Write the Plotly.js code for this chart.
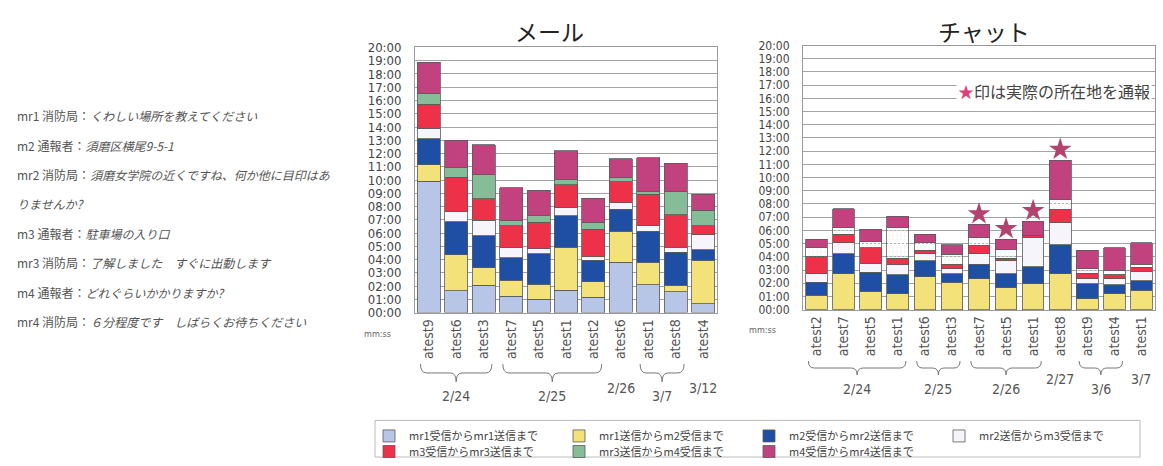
<!DOCTYPE html>
<html>
<head>
<meta charset="utf-8">
<script src="https://cdn.plot.ly/plotly-3.0.1.min.js"></script>
<style>
  html, body { margin: 0; padding: 0; background: #fff; }
  #chart { width: 1163px; height: 466px; }
</style>
</head>
<body>
<div id="chart"></div>
<script>
// ---- data -------------------------------------------------------------
// Segment names (stage of each exchange) and their fill colours
const seriesNames = [
  'mr1受信からmr1送信まで',
  'mr1送信からm2受信まで',
  'm2受信からmr2送信まで',
  'mr2送信からm3受信まで',
  'm3受信からmr3送信まで',
  'mr3送信からm4受信まで',
  'm4受信からmr4送信まで'
];
const seriesColors = ['#b7c6e6', '#f3e17a', '#1e4fa4', '#f5f5fb', '#ec3149', '#86bd99', '#c2417f'];

// Y-axis tick labels (mm:ss)
const yTickLabels = [
  '00:00', '01:00', '02:00', '03:00', '04:00', '05:00', '06:00', '07:00', '08:00', '09:00', '10:00',
  '11:00', '12:00', '13:00', '14:00', '15:00', '16:00', '17:00', '18:00', '19:00', '20:00'
];

// メール: subjects, session dates, durations (minutes) per stage
const mailLabels = ['atest9', 'atest6', 'atest3', 'atest7', 'atest5', 'atest1', 'atest2', 'atest6', 'atest1', 'atest8', 'atest4'];
const mailDates  = ['2/24', '2/24', '2/24', '2/25', '2/25', '2/25', '2/25', '2/26', '3/7', '3/7', '3/12'];
const mailS1 = [9.90, 1.64, 2.07, 1.25, 1.00, 1.69, 1.15, 3.81, 2.12, 1.57, 0.65];
const mailS2 = [1.25, 2.74, 1.32, 1.19, 1.14, 3.24, 1.17, 2.32, 1.69, 0.50, 3.29];
const mailS3 = [1.95, 2.49, 2.41, 1.69, 2.29, 2.37, 1.62, 1.67, 2.32, 2.49, 0.79];
const mailS4 = [0.80, 0.73, 1.17, 0.75, 0.37, 0.62, 0.29, 0.50, 0.42, 0.37, 1.15];
const mailS5 = [1.80, 2.60, 1.63, 1.67, 2.00, 1.74, 2.07, 1.56, 2.37, 2.44, 0.67];
const mailS6 = [0.80, 0.76, 1.80, 0.37, 0.50, 0.38, 0.50, 0.30, 0.25, 1.80, 1.17];
const mailS7 = [2.40, 2.04, 2.25, 2.49, 1.94, 2.16, 1.82, 1.44, 2.53, 2.09, 1.20];

// チャット: subjects, session dates, durations (minutes) per stage
const chatLabels = ['atest2', 'atest7', 'atest5', 'atest1', 'atest6', 'atest3', 'atest7', 'atest5', 'atest1', 'atest8', 'atest9', 'atest4', 'atest1'];
const chatDates  = ['2/24', '2/24', '2/24', '2/24', '2/25', '2/25', '2/26', '2/26', '2/26', '2/27', '3/6', '3/6', '3/7'];
const chatS1 = [0, 0, 0, 0, 0, 0, 0, 0, 0, 0, 0, 0, 0];
const chatS2 = [1.08, 2.70, 1.40, 1.20, 2.50, 2.08, 2.33, 1.65, 1.95, 2.70, 0.83, 1.20, 1.45];
const chatS3 = [1.00, 1.55, 1.43, 1.45, 1.20, 0.62, 1.12, 1.05, 1.30, 2.20, 1.12, 0.70, 0.75];
const chatS4 = [0.62, 0.83, 0.67, 0.75, 0.55, 0.38, 0.80, 1.00, 2.25, 1.68, 0.38, 0.43, 0.70];
const chatS5 = [1.30, 0.62, 1.20, 0.50, 0.25, 0.37, 0.58, 0.20, 0.08, 1.00, 0.42, 0.32, 0.30];
const chatS6 = [0.70, 0.50, 0.43, 2.35, 0.58, 0.75, 0.62, 0.68, 0.07, 0.75, 0.33, 0.30, 0.25];
const chatS7 = [0.63, 1.45, 0.95, 0.83, 0.62, 0.70, 1.00, 0.75, 1.05, 3.00, 1.42, 1.75, 1.63];
// sessions in which the caller reported the actual location (★)
const chatReported = [false, false, false, false, false, false, true, true, true, true, false, false, false];

// Dialogue shown on the left
const dialogueLines = [
  'mr1 消防局：<i>くわしい場所を教えてください</i>',
  'm2 通報者：<i>須磨区横尾9-5-1</i>',
  'mr2 消防局：<i>須磨女学院の近くですね、何か他に目印はあ</i>',
  '<i>りませんか?</i>',
  'm3 通報者：<i>駐車場の入り口</i>',
  'mr3 消防局：<i>了解しました　すぐに出動します</i>',
  'm4 通報者：<i>どれぐらいかかりますか?</i>',
  'mr4 消防局：<i>６分程度です　しばらくお待ちください</i>'
];
const noteText = '印は実際の所在地を通報';

// ---- layout helpers -----------------------------------------------------
const W = 1163, H = 466;
const px = v => v / W;          // pixel column -> paper x
const py = v => 1 - v / H;      // pixel row -> paper y
const JP = '"Noto Sans CJK JP", "Noto Sans", sans-serif';
const NUM = '"Liberation Sans Narrow", "DejaVu Sans Condensed", "Liberation Sans", sans-serif';

const mailSeries = [mailS1, mailS2, mailS3, mailS4, mailS5, mailS6, mailS7];
const chatSeries = [chatS1, chatS2, chatS3, chatS4, chatS5, chatS6, chatS7];

const traces = [];
mailSeries.forEach((vals, k) => {
  traces.push({
    type: 'bar', name: seriesNames[k], x: vals.map((_, i) => i), y: vals,
    xaxis: 'x', yaxis: 'y', width: 0.84,
    marker: { color: seriesColors[k], line: { color: '#5a5a5a', width: 0.8 } },
    legendgroup: 'g' + k, legend: k < 4 ? 'legend' : 'legend2', showlegend: true,
    hoverinfo: 'skip'
  });
});
chatSeries.forEach((vals, k) => {
  const marker = { color: seriesColors[k], line: { color: '#5a5a5a', width: 0.8 } };
  if (k === 5) marker.pattern = { shape: '.', fgcolor: '#f2f7f2', size: 4, solidity: 0.35 };
  traces.push({
    type: 'bar', name: seriesNames[k], x: vals.map((_, i) => i), y: vals,
    xaxis: 'x2', yaxis: 'y2', width: 0.8,
    marker: marker, legendgroup: 'g' + k, showlegend: false, hoverinfo: 'skip'
  });
});

// stars above reported chat sessions
const chatTotals = chatLabels.map((_, i) => chatSeries.reduce((s, a) => s + a[i], 0));
const starX = [], starY = [];
chatReported.forEach((r, i) => { if (r) { starX.push(i); starY.push(chatTotals[i] + 0.8); } });
traces.push({
  type: 'scatter', mode: 'markers', x: starX, y: starY, xaxis: 'x2', yaxis: 'y2',
  marker: { symbol: 'star', size: 17, color: '#b3426e' }, showlegend: false, hoverinfo: 'skip'
});

function groupsOf(dates) {
  const g = [];
  dates.forEach((d, i) => {
    const last = g[g.length - 1];
    if (last && last.date === d) last.end = i; else g.push({ date: d, start: i, end: i });
  });
  return g;
}

function bracePath(x0, x1, yTop, yTip) {
  const xm = (x0 + x1) / 2, ym = (yTop + yTip) / 2, d = 0.22;
  return `M${x0},${yTop} Q${x0},${ym} ${x0 + d},${ym} L${xm - d},${ym} Q${xm},${ym} ${xm},${yTip} ` +
         `Q${xm},${ym} ${xm + d},${ym} L${x1 - d},${ym} Q${x1},${ym} ${x1},${yTop}`;
}

const shapes = [];
const annotations = [];
function note(o) {
  annotations.push(Object.assign({ xref: 'paper', yref: 'paper', showarrow: false,
    xanchor: 'center', yanchor: 'middle' }, o));
}

function addDateGroups(dates, xref, braceTop, braceTip, labelY, singleY) {
  groupsOf(dates).forEach(g => {
    const c = (g.start + g.end) / 2;
    if (g.end > g.start) {
      shapes.push({
        type: 'path', xref: xref, yref: 'paper',
        path: bracePath(g.start - 0.3, g.end + 0.3, py(braceTop), py(braceTip)),
        line: { color: '#777', width: 1 }, fillcolor: 'rgba(0,0,0,0)'
      });
    }
    note({ xref: xref, x: c, y: py(g.end > g.start ? labelY : singleY), text: g.date,
      font: { family: NUM, size: 14, color: '#555' } });
  });
}
addDateGroups(mailDates, 'x', 368, 386, 400, 392);
addDateGroups(chatDates, 'x2', 365, 379, 393, 383);

// chart titles
note({ x: px(549), y: py(31), text: 'メール', font: { family: JP, size: 23, color: '#222' } });
note({ x: px(984), y: py(31), text: 'チャット', font: { family: JP, size: 23, color: '#222' } });

// unit labels
note({ x: px(377), y: py(338), text: 'mm:ss', font: { family: NUM, size: 9, color: '#666' } });
note({ x: px(762), y: py(334), text: 'mm:ss', font: { family: NUM, size: 9, color: '#666' } });

// note about ★
note({ x: px(1152), xanchor: 'right', y: py(92), bgcolor: '#ffffff',
  text: '<span style="color:#e0407a">★</span>' + noteText,
  font: { family: JP, size: 16, color: '#444' } });

// dialogue
dialogueLines.forEach((t, i) => {
  note({ x: px(15), xanchor: 'left', y: py(117 + i * 29.7), text: t,
    font: { family: JP, size: 12, color: '#555' } });
});

// legend frame
shapes.push({ type: 'rect', xref: 'paper', yref: 'paper', x0: px(375), x1: px(1140), y0: py(462), y1: py(425),
  line: { color: '#bbb', width: 1 }, fillcolor: 'rgba(0,0,0,0)', layer: 'below' });

const yTickVals = yTickLabels.map((_, i) => i);
function yAxis(domain, size) {
  return {
    domain: domain, range: [0, 20], tickvals: yTickVals, ticktext: yTickLabels,
    showgrid: true, gridcolor: '#a3a3a3', gridwidth: 1, zeroline: false,
    showline: true, mirror: true, linecolor: '#9a9a9a', ticks: '', ticklabelstandoff: 10,
    tickfont: { family: NUM, size: size, color: '#444' }, fixedrange: true
  };
}
function xAxis(domain, labels, anchor) {
  return {
    domain: domain, range: [-0.5, labels.length - 0.5], tickvals: labels.map((_, i) => i), ticktext: labels,
    tickangle: -90, showgrid: false, zeroline: false, showline: true, mirror: true, linecolor: '#9a9a9a',
    ticks: '', anchor: anchor, tickfont: { family: NUM, size: 14, color: '#555' }, fixedrange: true
  };
}

const legendBase = {
  orientation: 'h', xanchor: 'left', yanchor: 'top', entrywidth: 145, bgcolor: 'rgba(0,0,0,0)',
  borderwidth: 0, font: { family: JP, size: 11, color: '#444' }, itemwidth: 30, traceorder: 'normal'
};

const layout = {
  width: W, height: H, margin: { l: 0, r: 0, t: 0, b: 0 },
  paper_bgcolor: '#fff', plot_bgcolor: '#fff', barmode: 'stack',
  xaxis: xAxis([px(415), px(717)], mailLabels, 'y'),
  yaxis: Object.assign(yAxis([py(316), py(48)], 13), { anchor: 'x' }),
  xaxis2: xAxis([px(803), px(1155)], chatLabels, 'y2'),
  yaxis2: Object.assign(yAxis([py(313), py(46)], 12), { anchor: 'x2' }),
  legend: Object.assign({}, legendBase, { x: px(369), y: py(426) }),
  legend2: Object.assign({}, legendBase, { x: px(369), y: py(442) }),
  shapes: shapes, annotations: annotations
};

Plotly.newPlot('chart', traces, layout, { staticPlot: true, displayModeBar: false });
</script>
</body>
</html>
